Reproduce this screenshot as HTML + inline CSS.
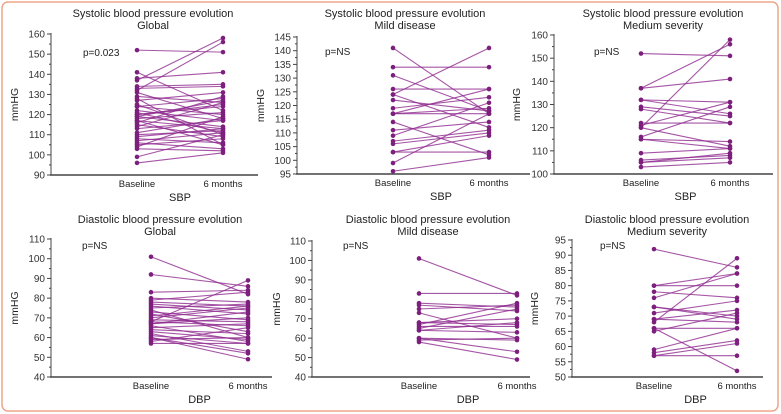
<!DOCTYPE html>
<html><head><meta charset="utf-8"><style>
html,body{margin:0;padding:0;background:#fff;}
svg{display:block;font-family:"Liberation Sans",sans-serif;}
</style></head><body>
<svg id="fig" width="781" height="414" viewBox="0 0 781 414" xmlns="http://www.w3.org/2000/svg">
<rect x="2" y="2" width="776" height="409" rx="6" fill="#fff" stroke="#eda58a" stroke-width="1.5"/>
</svg>
<script>
// Data arrays: [baseline, 6 months] values per patient
const categories = ["Baseline", "6 months"];
const sbpGlobalBase = [152,137,132,141,138,134,133,131,129,127,125,124,122,120,120,119,118,117,117,116,115,114,111,110,108,107,106,105,104,103,99,96,124,128,113,119,121,109];
const sbpGlobal6m   = [151,158,156,122,141,135,134,118,126,131,110,128,117,125,124,114,121,113,105,129,109,126,118,112,106,111,103,108,119,102,110,101,120,105,117,127,111,113];
const sbpMildBase = [141,134,131,126,124,124,122,119,117,117,117,114,111,109,107,106,103,103,99,96];
const sbpMild6m   = [117,134,118,126,141,112,118,123,126,119,117,102,114,121,111,110,103,109,117,101];
const sbpMedBase = [152,137,137,132,132,129,128,122,121,120,120,116,115,115,109,106,105,105,103];
const sbpMed6m   = [151,141,156,126,131,125,122,122,131,158,112,129,111,114,111,108,107,109,105];
const dbpGlobalBase = [101,92,83,80,79,78,77,76,75,74,73,72,70,69,68,68,67,66,65,64,63,62,61,60,60,59,58,57,67,71];
const dbpGlobal6m   = [82,86,84,78,83,76,74,72,77,60,69,63,75,68,89,66,70,58,67,62,59,53,57,52,49,60,65,57,73,76];
const dbpMildBase = [101,83,78,77,75,73,68,68,67,66,65,64,64,60,60,58,59];
const dbpMild6m   = [82,83,76,74,77,60,70,67,78,66,75,68,63,59,53,49,60];
const dbpMedBase = [92,80,80,78,76,73,73,71,69,69,68,66,66,65,59,58,57,57];
const dbpMed6m   = [86,84,80,76,84,70,69,75,72,68,89,52,66,71,66,62,57,61];
const pLabels = ["p=0.023","p=NS","p=NS","p=NS","p=NS","p=NS"];

const panels = [
 {t1:"Systolic blood pressure evolution",t2:"Global",ax:51,yT:34,yB:175,vmin:90,vmax:160,step:10,xb:137,x6:223,xr:258,cx:153,ty:17,px:83,py:56,xl:"SBP",base:sbpGlobalBase,m6:sbpGlobal6m,yl:18},
 {t1:"Systolic blood pressure evolution",t2:"Mild disease",ax:297,yT:37,yB:174,vmin:95,vmax:145,step:5,xb:393,x6:489,xr:530,cx:405,ty:17,px:325,py:55,xl:"SBP",base:sbpMildBase,m6:sbpMild6m,yl:264},
 {t1:"Systolic blood pressure evolution",t2:"Medium severity",ax:554,yT:35,yB:174,vmin:100,vmax:160,step:10,xb:641,x6:730,xr:773,cx:663,ty:17,px:594,py:55,xl:"SBP",base:sbpMedBase,m6:sbpMed6m,yl:520},
 {t1:"Diastolic blood pressure evolution",t2:"Global",ax:51,yT:239,yB:377,vmin:40,vmax:110,step:10,xb:151,x6:248,xr:272,cx:160,ty:223,px:82,py:249,xl:"DBP",base:dbpGlobalBase,m6:dbpGlobal6m,yl:18},
 {t1:"Diastolic blood pressure evolution",t2:"Mild disease",ax:312,yT:241,yB:377,vmin:40,vmax:110,step:10,xb:419,x6:517,xr:530,cx:428,ty:223,px:343,py:249,xl:"DBP",base:dbpMildBase,m6:dbpMild6m,yl:280},
 {t1:"Diastolic blood pressure evolution",t2:"Medium severity",ax:572,yT:240,yB:377,vmin:50,vmax:95,step:5,xb:654,x6:737,xr:763,cx:667,ty:223,px:600,py:249,xl:"DBP",base:dbpMedBase,m6:dbpMed6m,yl:538}
];
const NS="http://www.w3.org/2000/svg";
const svg=document.getElementById('fig');
function mk(tag,attrs,parent){const e=document.createElementNS(NS,tag);for(const k in attrs)e.setAttribute(k,attrs[k]);(parent||svg).appendChild(e);return e;}
panels.forEach((p,i)=>{
  const g=mk('g',{});
  
  
  const y=v=>p.yB-(v-p.vmin)/(p.vmax-p.vmin)*(p.yB-p.yT);
  const t=mk('text',{x:p.cx,y:p.ty,'text-anchor':'middle','font-size':11,fill:'#222'},g);
  t.textContent=p.t1;
  
  
  const t2=mk('text',{x:p.cx,y:p.ty+12,'text-anchor':'middle','font-size':11,fill:'#222'},g);
  t2.textContent=p.t2;
  
  
  // axes
  const ya=mk('line',{x1:p.ax,y1:p.yT-1,x2:p.ax,y2:p.yB,stroke:'#444','stroke-width':1},g);
  
  
  const xa=mk('line',{x1:p.ax-1,y1:p.yB,x2:p.xr,y2:p.yB,stroke:'#444','stroke-width':1.5},g);
  
  
  for(let v=p.vmin;v<=p.vmax+1e-9;v+=p.step/2){
    const major=Math.abs(((v-p.vmin)/p.step)%1)<1e-6;
    mk('line',{x1:p.ax-(major?4:2),y1:y(v),x2:p.ax,y2:y(v),stroke:'#444','stroke-width':1},g);
    if(major){const tl=mk('text',{x:p.ax-6,y:y(v)+3.5,'text-anchor':'end','font-size':10,fill:'#333'},g);
      tl.textContent=v;
      
      }
  }
  const yl=mk('text',{transform:`translate(${p.yl},${(p.yT+p.yB)/2}) rotate(-90)`,'text-anchor':'middle','font-size':10.5,fill:'#222'},g);
  yl.textContent='mmHG';
  
  
  [p.xb,p.x6].forEach((xx,k)=>{const c=mk('text',{x:xx,y:p.yB+12,'text-anchor':'middle','font-size':9.5,fill:'#222'},g);
    c.textContent=categories[k];
    
    });
  const xl=mk('text',{x:(p.xb+p.x6)/2,y:p.yB+26,'text-anchor':'middle','font-size':11,fill:'#222'},g);
  xl.textContent=p.xl;
  
  
  const pt=mk('text',{x:p.px,y:p.py,'font-size':10,fill:'#222'},g);
  pt.textContent=pLabels[i];
  
  
  p.base.forEach((b,j)=>{
    const a=p.m6[j];
    const ln=mk('line',{x1:p.xb,y1:y(b),x2:p.x6,y2:y(a),stroke:'#8e2a8e','stroke-opacity':0.8,'stroke-width':1.1},g);
    
    
    const d1=mk('circle',{cx:p.xb,cy:y(b),r:2.3,fill:'#7d1f7d'},g);
    
    
    const d2=mk('circle',{cx:p.x6,cy:y(a),r:2.3,fill:'#7d1f7d'},g);
    
    
  });
});
</script>
</body></html>
